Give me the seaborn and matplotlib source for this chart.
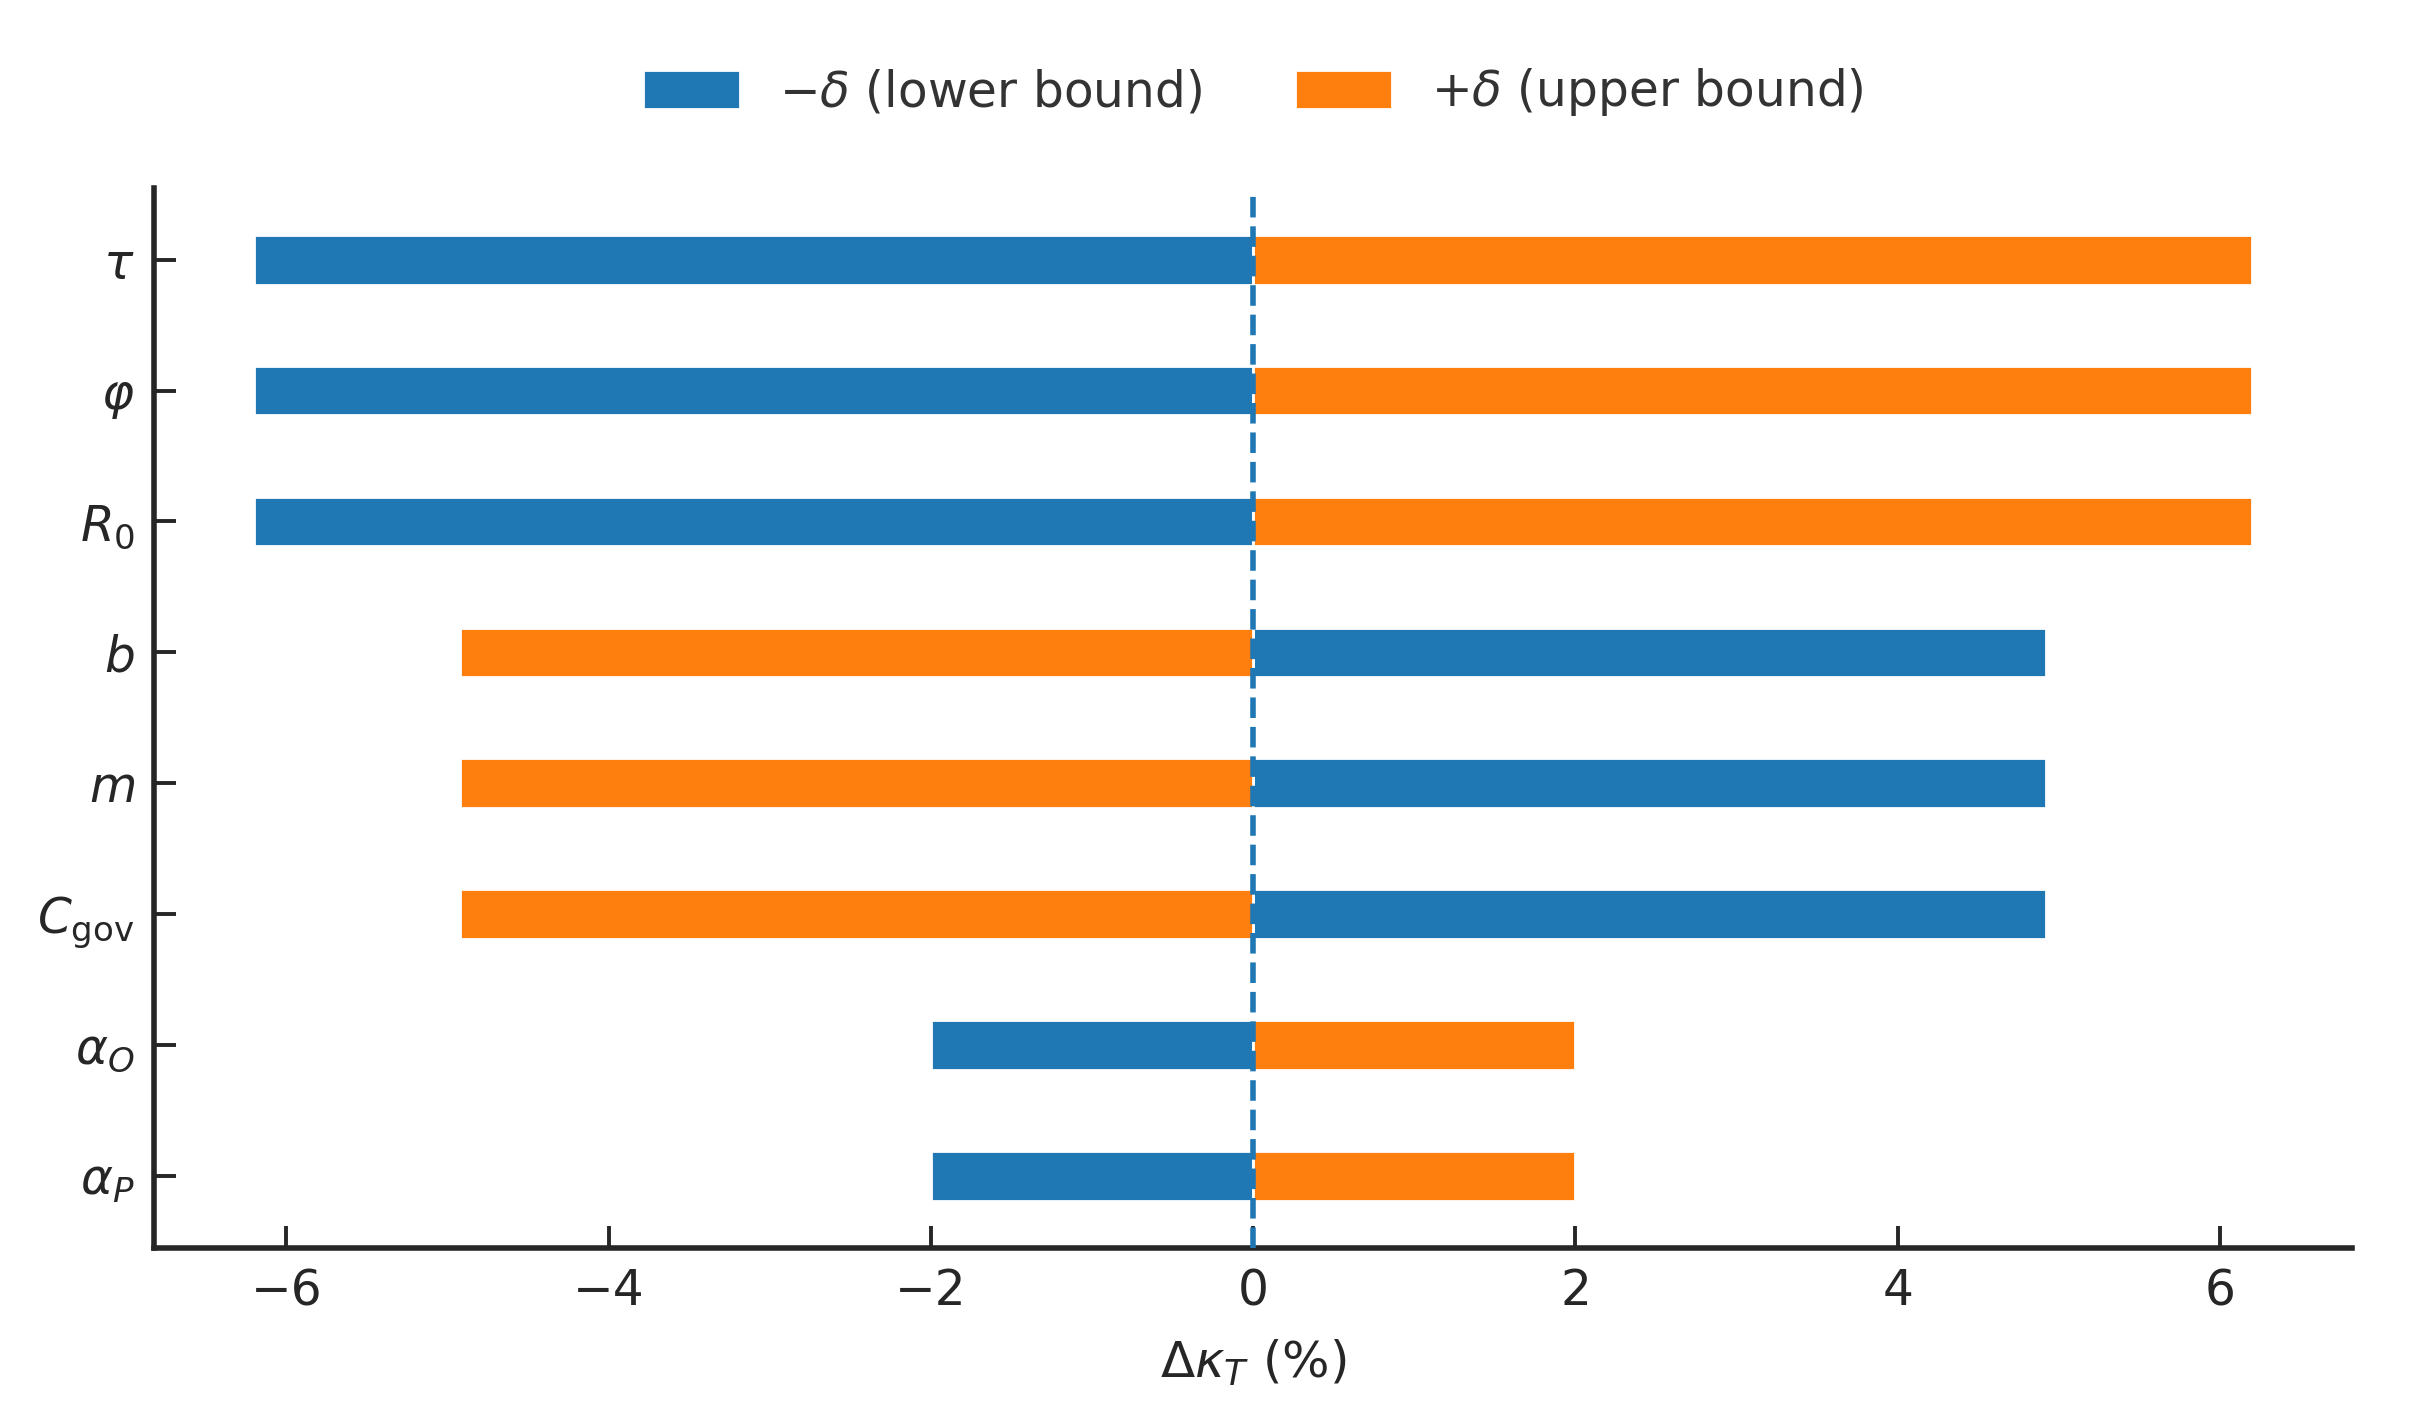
import numpy as np
import pandas as pd
import matplotlib
matplotlib.use("Agg")
import matplotlib.pyplot as plt
import seaborn as sns

# --- sensitivity data (percent change in kappa_T) ---
params = [r"$\tau$", r"$\varphi$", r"$R_0$", r"$b$", r"$m$",
          r"$C_{\rm gov}$", r"$\alpha_O$", r"$\alpha_P$"]
lower_vals = [-6.2, -6.2, -6.2, 4.92, 4.92, 4.92, -2.0, -2.0]
upper_vals = [6.2, 6.2, 6.2, -4.92, -4.92, -4.92, 2.0, 2.0]

lower_label = r"$-\delta$ (lower bound)"
upper_label = r"$+\delta$ (upper bound)"

df = pd.DataFrame({"param": params, "lower": lower_vals, "upper": upper_vals})

sns.set_style("ticks")
plt.rcParams["font.family"] = ["DejaVu Sans"]

fig = plt.figure(figsize=(12.05, 7.055), dpi=200)
ax = fig.add_axes([0.064, 0.1155, 0.912, 0.7515])

sns.barplot(data=df, x="lower", y="param", orient="h", color="#1f77b4",
            width=0.38, saturation=1, label=lower_label, ax=ax)
sns.barplot(data=df, x="upper", y="param", orient="h", color="#ff7f0e",
            width=0.38, saturation=1, label=upper_label, ax=ax)

ax.axvline(0, color="#1f77b4", linestyle="--", linewidth=2.0, zorder=3)

ax.set_xlim(-6.82, 6.82)
ax.set_ylim(7.55, -0.55)
ax.set_xticks([-6, -4, -2, 0, 2, 4, 6])
ax.set_xlabel(r"$\Delta\kappa_T$ (%)", fontsize=18, labelpad=8)
ax.set_ylabel("")

for side in ["top", "right"]:
    ax.spines[side].set_visible(False)
for side in ["left", "bottom"]:
    ax.spines[side].set_linewidth(2.0)

ax.tick_params(axis="both", direction="in", length=8, width=1.4,
               labelsize=17.5, pad=7)

leg = ax.legend(loc="center", bbox_to_anchor=(0.5, 1.09), ncol=2,
                frameon=False, fontsize=17.5, handlelength=2.0,
                handleheight=0.85, columnspacing=1.9)
for t in leg.get_texts():
    t.set_color("#333333")

fig.savefig("out.png", dpi=200)
